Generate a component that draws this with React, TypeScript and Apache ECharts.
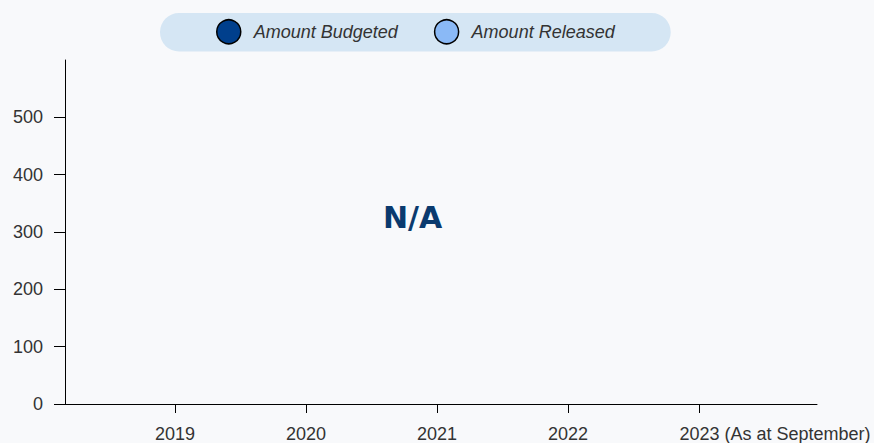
import React, { useEffect, useRef } from "react";
import * as echarts from "echarts";

const categories = ["2019", "2020", "2021", "2022", "2023 (As at September)"];
const seriesNames = ["Amount Budgeted", "Amount Released"];
const budgeted: number[] = [];
const released: number[] = [];
const yTicks = [0, 100, 200, 300, 400, 500];
const FONT = "'Liberation Sans', Arial, Helvetica, sans-serif";

export default function App() {
  const ref = useRef<HTMLDivElement>(null);
  useEffect(() => {
    document.body.style.margin = "0";
    const chart = echarts.init(ref.current!, null, { renderer: "svg" });
    const xIdx = categories.map((_, i) => i);
    chart.setOption({
      animation: false,
      backgroundColor: "#f8f9fb",
      textStyle: { fontFamily: FONT },
      legend: {
        left: 160,
        top: 13,
        padding: [6, 56, 7, 56],
        backgroundColor: "#d5e6f4",
        borderRadius: 19,
        itemWidth: 24,
        itemHeight: 24,
        itemGap: 36,
        icon: "circle",
        itemStyle: { borderColor: "#000", borderWidth: 1.5 },
        textStyle: {
          fontFamily: FONT,
          fontSize: 18,
          fontStyle: "italic",
          color: "#333",
          padding: [0, 0, 0, 8],
        },
        data: seriesNames,
      },
      grid: { left: 65, right: 57, top: 60, bottom: 38, containLabel: false },
      xAxis: {
        type: "value",
        min: -0.8397,
        max: 4.9008,
        splitLine: { show: false },
        axisLine: { show: true, onZero: false, lineStyle: { color: "#000", width: 1 } },
        axisTick: { show: true, length: 9, customValues: xIdx, lineStyle: { color: "#000" } },
        axisLabel: {
          customValues: xIdx,
          margin: 21,
          fontSize: 18,
          color: "#333",
          fontFamily: FONT,
          formatter: (v: number) => {
            const i = Math.round(v);
            const s = categories[i] ?? "";
            return i === categories.length - 1 ? `{long|${s}}` : s;
          },
          rich: {
            long: {
              fontSize: 18,
              color: "#333",
              fontFamily: FONT,
              padding: [0, 0, 0, 152],
            },
          },
        },
      },
      yAxis: {
        type: "value",
        min: 0,
        max: 600,
        interval: 100,
        splitLine: { show: false },
        axisLine: { show: true, onZero: false, lineStyle: { color: "#000", width: 1 } },
        axisTick: { show: true, length: 11, customValues: yTicks, lineStyle: { color: "#000" } },
        axisLabel: {
          customValues: yTicks,
          margin: 22,
          fontSize: 18,
          color: "#333",
          fontFamily: FONT,
        },
      },
      series: [
        { name: seriesNames[0], type: "bar", data: budgeted, itemStyle: { color: "#003f8c" } },
        { name: seriesNames[1], type: "bar", data: released, itemStyle: { color: "#8ab9f6" } },
      ],
      graphic: [
        {
          type: "text",
          left: 383,
          top: 202,
          style: {
            text: "N/A",
            fontFamily: "'DejaVu Sans', sans-serif",
            fontWeight: "bold",
            fontSize: 30,
            fill: "#0a3a6e",
          },
        },
      ],
    });
    return () => chart.dispose();
  }, []);
  return <div ref={ref} style={{ width: 874, height: 443 }} />;
}
